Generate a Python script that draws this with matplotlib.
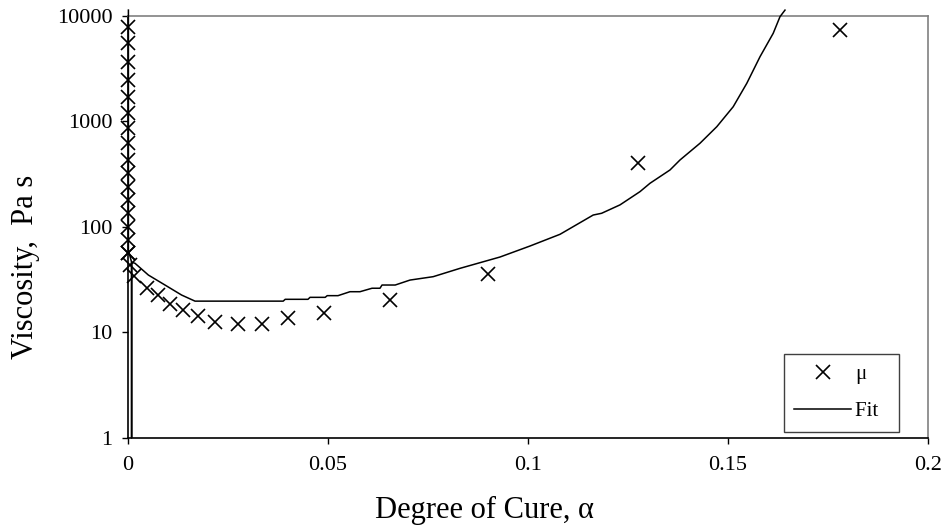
import matplotlib
matplotlib.use('Agg')
import matplotlib.pyplot as plt
import numpy as np
from matplotlib.lines import Line2D

plt.rcParams['font.family'] = ['Liberation Serif', 'DejaVu Serif']

# measured viscosity (x markers)
cure_meas = [0.0001, 0.0001, 0.0001, 0.0001, 0.0001, 0.0001, 0.0001, 0.0001,
             0.0001, 0.0001, 0.0001, 0.0001, 0.0001, 0.0001, 0.0001, 0.0001,
             0.0001, 0.0004, 0.0015, 0.0047, 0.0074, 0.0105, 0.0138, 0.0174,
             0.0218, 0.0276, 0.0334, 0.0401, 0.0489, 0.0655, 0.090, 0.1274, 0.178]
visc_meas = [7820, 5510, 3640, 2460, 1700, 1200, 863, 622,
             430, 323, 238, 178, 134, 98.6, 74.5, 56.3,
             56.3, 43.4, 34.1, 26.2, 22.3, 18.5, 16.2, 14.2,
             12.5, 12.0, 12.0, 13.7, 15.1, 20.2, 36, 399, 7320]

# fitted model curve
cure_fit = [0.0001, 0.0001, 0.0009, 0.0009, 0.0009, 0.00175, 0.0051, 0.00925,
            0.0134, 0.01675, 0.0388, 0.0393, 0.045, 0.0455, 0.0493, 0.0498,
            0.0525, 0.0555, 0.058, 0.061, 0.063, 0.0635, 0.0668, 0.0705,
            0.0763, 0.083, 0.093, 0.1005, 0.108, 0.1163, 0.1184, 0.123,
            0.128, 0.1305, 0.1355, 0.138, 0.143, 0.1472, 0.1513, 0.1547,
            0.158, 0.1613, 0.163, 0.16425]
visc_fit = [11300, 60, 46, 1, 46, 45.0, 34.8, 28.0,
            22.5, 19.7, 19.7, 20.5, 20.5, 21.4, 21.4, 22.2,
            22.2, 24.2, 24.2, 26.1, 26.1, 28.0, 28.0, 31.2,
            33.6, 40.3, 51.6, 65.6, 84.7, 129, 134, 161,
            215, 258, 345, 429, 618, 887, 1371, 2287,
            4084, 6808, 9790, 11300]

x_ticks = [0, 0.05, 0.1, 0.15, 0.2]
x_ticklabels = ['0', '0.05', '0.1', '0.15', '0.2']
y_ticks = [1, 10, 100, 1000, 10000]
y_ticklabels = ['1', '10', '100', '1000', '10000']
legend_labels = ['μ', 'Fit  ']

fig = plt.figure(figsize=(9.48, 5.29), dpi=100)
ax = fig.add_axes((128 / 948, 1 - 437.7 / 529, 800 / 948, 422 / 529))

ax.plot(cure_fit, visc_fit, color='black', lw=1.1, clip_on=False, zorder=3)
ax.plot(cure_meas, visc_meas, ls='none', marker='x', ms=9.5, mew=1.2,
        color='black', clip_on=False, zorder=4)

ax.set_yscale('log')
ax.set_xlim(0, 0.2)
ax.set_ylim(1, 10000)
ax.set_xticks(x_ticks)
ax.set_xticklabels(x_ticklabels)
ax.set_yticks(y_ticks)
ax.set_yticklabels(y_ticklabels)
ax.yaxis.set_minor_locator(matplotlib.ticker.NullLocator())
ax.tick_params(axis='both', direction='out', length=4, width=1, labelsize=16)
ax.tick_params(axis='x', pad=9)
ax.tick_params(axis='y', pad=7)

for s in ['left', 'bottom']:
    ax.spines[s].set_color('black')
    ax.spines[s].set_linewidth(1.2)
for s in ['top', 'right']:
    ax.spines[s].set_color('#808080')
    ax.spines[s].set_linewidth(1.2)

fig.text(484 / 948, 1 - 510 / 529, 'Degree of Cure, α', ha='center', va='center',
         fontsize=22)
fig.text(26 / 948, 1 - 267 / 529, 'Viscosity,  Pa s', ha='center', va='center',
         rotation=90, fontsize=22)

handles = [Line2D([], [], ls='none', marker='x', ms=9.5, mew=1.2, color='black'),
           Line2D([], [], color='black', lw=1.1)]
leg = ax.legend(handles, legend_labels, loc='lower right',
                bbox_to_anchor=((899 - 128) / 800, (437.7 - 431.7) / 422),
                fancybox=False, framealpha=1, edgecolor='#404040', fontsize=15,
                handlelength=2.7, handletextpad=0.2, labelspacing=0.85,
                borderpad=0.5, borderaxespad=0)
leg.get_frame().set_linewidth(1.0)

fig.savefig('out.png', dpi=100)
